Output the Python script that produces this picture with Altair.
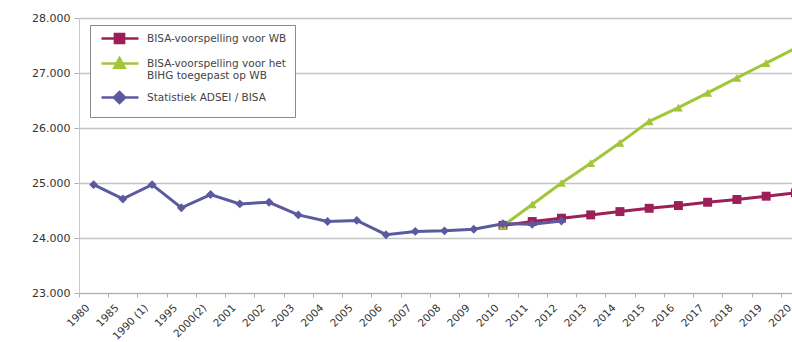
import altair as alt
import pandas as pd

# ---------------- data ----------------
categories = ["1980", "1985", "1990 (1)", "1995", "2000(2)"] + [str(y) for y in range(2001, 2021)]

stat_cats = categories[:17]  # 1980 .. 2012
stat_vals = [24970, 24710, 24970, 24550, 24790, 24620, 24650, 24420, 24300, 24320,
             24060, 24120, 24130, 24160, 24260, 24250, 24310]

wb_cats = categories[14:]  # 2010 .. 2020
wb_vals = [24230, 24300, 24360, 24420, 24480, 24540, 24590, 24650, 24700, 24760, 24820]

bihg_cats = categories[14:]  # 2010 .. 2020
bihg_vals = [24220, 24610, 25000, 25360, 25730, 26120, 26370, 26640, 26910, 27180, 27450]

series_names = ["BISA-voorspelling voor WB",
                "BISA-voorspelling voor het\u2003\u2003|BIHG toegepast op WB",
                "Statistiek ADSEI / BISA"]
series_colors = ["#9c1f58", "#a2c63a", "#5b5a9f"]
series_shapes = ["square", "triangle-up", "diamond"]

# legend symbols: line segment + marker (custom paths, unit = 4px)
legend_paths = [
    "M-0.5,0H8.75M2.85,-1.15H5.15V1.15H2.85Z",
    "M-0.5,0H8.75M4,-1.35L5.3,1.05L2.7,1.05Z",
    "M-0.5,0H8.75M4,-1.4L5.4,0L4,1.4L2.6,0Z",
]

frames = []
for name, cats, vals in [(series_names[0], wb_cats, wb_vals),
                         (series_names[1], bihg_cats, bihg_vals),
                         (series_names[2], stat_cats, stat_vals)]:
    frames.append(pd.DataFrame({"series": name, "year": cats, "value": vals}))
df = pd.concat(frames, ignore_index=True)

FONT = "DejaVu Sans"

x_enc = alt.X("year:N", sort=categories,
              scale=alt.Scale(domain=categories, range=[0, 731], paddingInner=0, paddingOuter=0),
              axis=alt.Axis(title=None, labelAngle=-45, labelAlign="right", labelBaseline="middle",
                            labelFont=FONT, labelFontSize=10.5, labelColor="#333333",
                            labelPadding=9, labelOffset=-6, labelOverlap=False,
                            tickBand="extent", tickSize=4, tickColor="#b0b0b0",
                            domainColor="#b0b0b0", domainWidth=1.2, grid=False))
y_enc = alt.Y("value:Q",
              scale=alt.Scale(domain=[23000, 28000], nice=False, zero=False),
              axis=alt.Axis(title=None, values=[23000, 24000, 25000, 26000, 27000, 28000],
                            labelExpr="replace(format(datum.value, ',.0f'), ',', '.')",
                            labelFont=FONT, labelFontSize=11, labelColor="#333333",
                            labelPadding=4, tickSize=5, tickColor="#b0b0b0",
                            domainColor="#c8c8c8", domainWidth=1,
                            grid=True, gridColor="#c4c4c4", gridWidth=1.3))

base = alt.Chart(df)

layers = []
for name, color, shape in zip(series_names, series_colors, series_shapes):
    sub = base.transform_filter(alt.datum.series == name)
    layers.append(sub.mark_line(color=color, strokeWidth=3).encode(x=x_enc, y=y_enc))
    layers.append(sub.mark_point(color=color, shape=shape, filled=True, opacity=1,
                                 size=80, strokeWidth=1).encode(x=x_enc, y=y_enc))

legend_common = dict(title=None, orient="none", legendX=11, legendY=7,
                     fillColor="white", strokeColor="#8a8a8a", padding=8,
                     symbolSize=64, symbolStrokeWidth=2.5, symbolOpacity=1,
                     labelFont=FONT, labelFontSize=10.5, labelColor="#444444",
                     labelOffset=38, rowPadding=4, labelLimit=300,
                     labelExpr="split(datum.label, '|')")

legend_layer = base.transform_filter("false").mark_point(filled=True, opacity=1).encode(
    fill=alt.Fill("series:N", scale=alt.Scale(domain=series_names, range=series_colors),
                  legend=alt.Legend(**legend_common)),
    stroke=alt.Stroke("series:N", scale=alt.Scale(domain=series_names, range=series_colors),
                      legend=alt.Legend(**legend_common)),
    shape=alt.Shape("series:N", scale=alt.Scale(domain=series_names, range=legend_paths),
                    legend=alt.Legend(**legend_common)),
)

chart = alt.layer(*layers, legend_layer).properties(
    width=713, height=275,
    autosize=alt.AutoSizeParams(type="none"),
    padding={"left": 79, "top": 18, "right": 0, "bottom": 49},
    background="white",
).configure_view(stroke=None)

chart.save("out.html", embed_options={"renderer": "svg", "actions": False})
